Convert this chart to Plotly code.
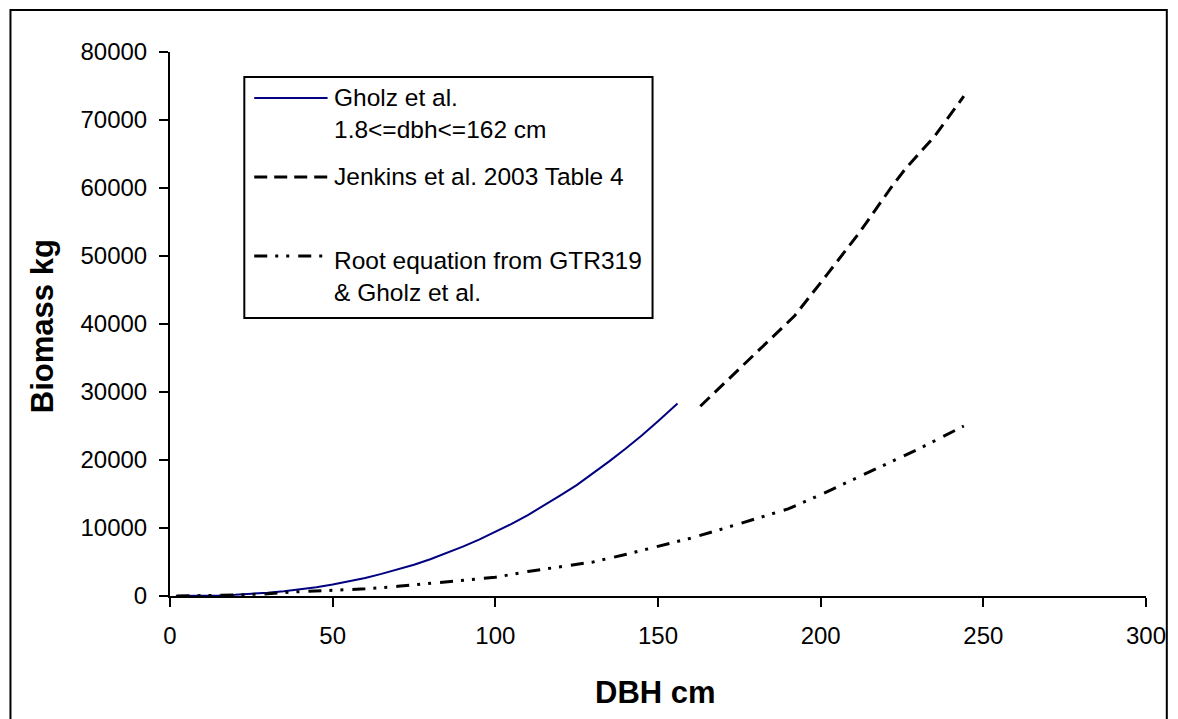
import plotly.graph_objects as go

# Gholz et al. biomass curve (1.8 <= dbh <= 162 cm)
gholz_dbh = [1.8, 5, 10, 15, 20, 25, 30, 35, 40, 45, 50, 55, 60, 65, 70, 75, 80,
             85, 90, 95, 100, 105, 110, 115, 120, 125, 130, 135, 140, 145, 150, 156]
gholz_kg = [2, 6, 30, 85, 175, 300, 475, 700, 970, 1300, 1700, 2150, 2650, 3250,
            3900, 4600, 5400, 6300, 7250, 8300, 9400, 10600, 11900, 13300, 14800,
            16300, 18000, 19800, 21650, 23600, 25700, 28300]

# Jenkins et al. 2003 Table 4
jenkins_dbh = [163, 173, 183, 192, 202, 212, 222, 226, 235, 244]
jenkins_kg = [27900, 32500, 37000, 41200, 47300, 53500, 60300, 62800, 67600, 73500]

# Root equation from GTR319 & Gholz et al.
root_dbh = [2, 10, 20, 30, 40, 50, 60, 70, 80, 90, 100, 110, 120, 130, 140, 150,
            160, 170, 180, 190, 200, 210, 220, 230, 244]
root_kg = [5, 40, 140, 330, 650, 830, 1050, 1420, 1900, 2300, 2750, 3600, 4300,
           5000, 6100, 7350, 8500, 9900, 11300, 12800, 14900, 17100, 19400, 21600, 25000]

x_ticks = [0, 50, 100, 150, 200, 250, 300]
y_ticks = [0, 10000, 20000, 30000, 40000, 50000, 60000, 70000, 80000]

legend_labels = ["Gholz et al.<br>1.8&lt;=dbh&lt;=162 cm",
                 "Jenkins et al. 2003 Table 4",
                 "Root equation from GTR319<br>&amp; Gholz et al."]

FONT = "Arial, Liberation Sans, sans-serif"
W, H = 1178, 719
L, R, T, B = 170, 23, 52, 123
PW, PH = W - L - R, H - T - B

BLUE = "#000080"
DASH = "13px,7px"
DASHDOT = "13px,8px,3px,8px,3px,9px"


def px(x):
    return (x - L) / PW


def py(y):
    return (H - B - y) / PH


fig = go.Figure()
fig.add_trace(go.Scatter(x=gholz_dbh, y=gholz_kg, mode="lines",
                         line=dict(color=BLUE, width=2), name="Gholz"))
fig.add_trace(go.Scatter(x=jenkins_dbh, y=jenkins_kg, mode="lines",
                         line=dict(color="black", width=3, dash=DASH), name="Jenkins"))
fig.add_trace(go.Scatter(x=root_dbh, y=root_kg, mode="lines",
                         line=dict(color="black", width=3, dash=DASHDOT), name="Root"))

shapes = []
annotations = []

# outer chart border
shapes.append(dict(type="rect", xref="paper", yref="paper",
                   x0=px(9), x1=px(1176), y0=py(740), y1=py(10),
                   line=dict(color="black", width=2), fillcolor="rgba(0,0,0,0)"))

# legend box
shapes.append(dict(type="rect", xref="paper", yref="paper",
                   x0=px(245), x1=px(657), y0=py(318), y1=py(77),
                   line=dict(color="black", width=2), fillcolor="white"))

samples = [(98, BLUE, "solid", 2), (177, "black", DASH, 3), (256, "black", DASHDOT, 3)]
for yy, col, dash, w in samples:
    shapes.append(dict(type="line", xref="paper", yref="paper",
                       x0=px(255), x1=px(329), y0=py(yy), y1=py(yy),
                       line=dict(color=col, width=w, dash=dash)))

text_rows = [(113, legend_labels[0]), (177, legend_labels[1]), (276, legend_labels[2])]
for yy, txt in text_rows:
    annotations.append(dict(xref="paper", yref="paper", x=px(333), y=py(yy),
                            xanchor="left", yanchor="middle", align="left",
                            text=txt, showarrow=False,
                            font=dict(family=FONT, size=24.5, color="black")))

# axis titles
annotations.append(dict(xref="paper", yref="paper", x=px(660), y=py(692),
                        xanchor="center", yanchor="middle", text="<b>DBH cm</b>",
                        showarrow=False, font=dict(family=FONT, size=31, color="black")))
annotations.append(dict(xref="paper", yref="paper", x=px(41), y=py(326),
                        xanchor="center", yanchor="middle", text="<b>Biomass kg</b>",
                        textangle=-90, showarrow=False,
                        font=dict(family=FONT, size=31, color="black")))

fig.update_layout(
    width=W, height=H,
    margin=dict(l=L, r=R, t=T, b=B, pad=0),
    paper_bgcolor="white", plot_bgcolor="white",
    showlegend=False,
    shapes=shapes, annotations=annotations,
    font=dict(family=FONT, color="black"),
    xaxis=dict(range=[0, 300], tickvals=x_ticks, showgrid=False, zeroline=False,
               showline=True, linecolor="black", linewidth=2,
               ticks="outside", ticklen=9, tickwidth=2, tickcolor="black",
               tickfont=dict(family=FONT, size=24, color="black"),
               ticklabelstandoff=8),
    yaxis=dict(range=[0, 80000], tickvals=y_ticks, tickformat="d",
               showgrid=False, zeroline=False,
               showline=True, linecolor="black", linewidth=2,
               ticks="outside", ticklen=9, tickwidth=2, tickcolor="black",
               tickfont=dict(family=FONT, size=24, color="black"),
               ticklabelstandoff=7),
)

fig.write_html("out.html")
